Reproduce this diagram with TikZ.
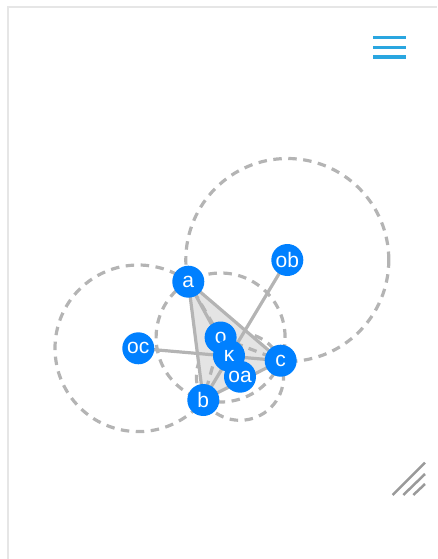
\documentclass[tikz,border=0pt]{standalone}
\usepackage{fontspec}
\setmainfont{Liberation Sans}
\definecolor{ptblue}{HTML}{0080FF}
\definecolor{lngrey}{HTML}{B4B4B4}
\definecolor{fillgrey}{HTML}{E4E4E4}
\definecolor{framegrey}{HTML}{E6E6E6}
\definecolor{menublue}{HTML}{2AA6E0}
\definecolor{resgrey}{HTML}{9A9A9A}
\tikzset{
  pt/.style={circle,fill=ptblue,draw=none,minimum size=32pt,inner sep=0pt,
    text=white,font=\fontsize{21}{21}\selectfont},
  seg/.style={draw=lngrey,line width=3.2pt},
  dseg/.style={draw=lngrey,line width=3.2pt,dash pattern=on 8.5pt off 6.5pt},
  dcirc/.style={draw=lngrey,line width=3.2pt,dash pattern=on 8.5pt off 6.5pt},
}
\begin{document}
\begin{tikzpicture}[x=1pt,y=-1pt]
\useasboundingbox (0,0) rectangle (437,559);
% frame
\draw[framegrey,line width=2pt] (8,559) -- (8,7) -- (437,7);
% menu icon
\foreach \yy in {37.7,47.3,57} \draw[menublue,line width=3.3pt] (373,\yy) -- (405.5,\yy);
% resize icon
\draw[resgrey,line width=2.5pt] (392.7,495) -- (425,462.7);
\draw[resgrey,line width=2.5pt] (403.3,495) -- (425,474);
\draw[resgrey,line width=2.5pt] (413.3,495) -- (425,484);
% coordinates
\coordinate (A) at (188.3,281.7);
\coordinate (B) at (203.3,400);
\coordinate (C) at (280.7,360.7);
\coordinate (O) at (220.6,337.5);
\coordinate (K) at (229,355.7);
\coordinate (OA) at (240,376.7);
\coordinate (OB) at (287.3,260);
\coordinate (OC) at (138.3,348.3);
% circles
\draw[dcirc] (OB) circle (101.5pt);
\draw[dcirc] (OC) circle (83.3pt);
\draw[dcirc] (OA) circle (43.6pt);
\draw[dcirc] (O) circle (64.5pt);
% triangle
\fill[fillgrey] (A) -- (B) -- (C) -- cycle;
\draw[dseg] (O) -- (A);
\draw[dseg] (O) -- (B);
\draw[dseg] (O) -- (C);
\draw[seg] (A) -- (OA);
\draw[seg] (OB) -- (B);
\draw[seg] (OC) -- (C);
\draw[seg,line join=round] (A) -- (B) -- (C) -- cycle;
% nodes
\node[pt] (a) at (A) {a};
\node[pt] (b) at (B) {b};
\node[pt] (c) at (C) {c};
\node[pt] (ob) at (OB) {ob};
\node[pt] (oc) at (OC) {oc};
\node[pt] (o) at (O) {o};
\node[pt] (k) at (K) {κ};
\node[pt] (oa) at (OA) {oa};
\end{tikzpicture}
\end{document}
